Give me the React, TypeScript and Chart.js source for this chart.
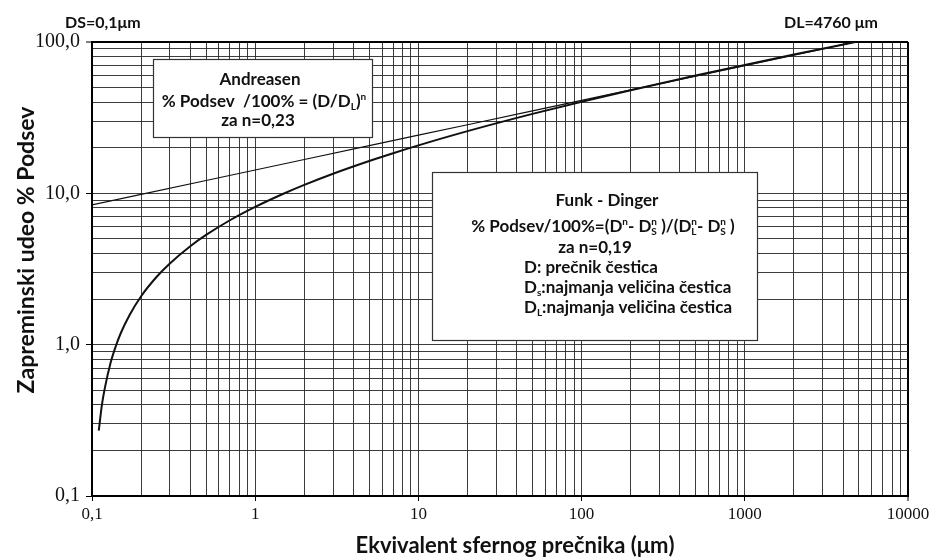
import { useEffect, useRef } from 'react';
import { Chart, registerables } from 'chart.js';

Chart.register(...registerables);

// Equivalent spherical diameter (μm) and cumulative passing (%)
const andreasenDiameters = [0.1, 0.2, 0.5, 1, 2, 5, 10, 20, 50, 100, 200, 500, 1000, 2000, 4760];
const andreasenPercent = [8.4, 9.85, 12.16, 14.26, 16.73, 20.65, 24.22, 28.4, 35.07, 41.13, 48.24, 59.56, 69.85, 81.92, 100];

const funkDingerDiameters = [0.11, 0.115, 0.12, 0.13, 0.14, 0.15, 0.17, 0.2, 0.25, 0.3, 0.4, 0.5, 0.7, 1, 1.5, 2, 3, 5, 7, 10, 20, 50, 100, 200, 500, 1000, 2000, 4760];
const funkDingerPercent = [0.27, 0.4, 0.52, 0.76, 0.98, 1.19, 1.57, 2.09, 2.82, 3.44, 4.47, 5.31, 6.64, 8.14, 9.98, 11.38, 13.48, 16.36, 18.42, 20.75, 25.76, 33.49, 40.29, 48.05, 60.0, 70.54, 82.56, 100];

const xMajorTicks = [0.1, 1, 10, 100, 1000, 10000];
const xTickLabels = ['0,1', '1', '10', '100', '1000', '10000'];
const yMajorTicks = [0.1, 1, 10, 100];
const yTickLabels = ['0,1', '1,0', '10,0', '100,0'];

const SANS = 'Lato, "Open Sans", sans-serif';
const SERIF = '"Liberation Serif", "DejaVu Serif", serif';

type Seg = { t: string; sub?: string; sup?: string };

const isMajor = (v: number) => Math.abs(Math.log10(v) - Math.round(Math.log10(v))) < 1e-9;

function logTicks(min: number, max: number) {
  const out: { value: number }[] = [];
  for (let e = Math.round(Math.log10(min)); e <= Math.round(Math.log10(max)); e++) {
    for (let m = 1; m <= 9; m++) {
      const v = parseFloat((m * Math.pow(10, e)).toPrecision(6));
      if (v >= min - 1e-12 && v <= max + 1e-9) out.push({ value: v });
    }
  }
  return out;
}

function labelFor(v: number, majors: number[], labels: string[]) {
  const i = majors.findIndex((m) => Math.abs(m - v) / m < 1e-6);
  return i >= 0 ? labels[i] : '';
}

function segWidth(ctx: CanvasRenderingContext2D, s: Seg, size: number) {
  ctx.font = `bold ${size}px ${SANS}`;
  const w = ctx.measureText(s.t).width;
  ctx.font = `bold ${Math.round(size * 0.6)}px ${SANS}`;
  const a = s.sub ? ctx.measureText(s.sub).width : 0;
  const b = s.sup ? ctx.measureText(s.sup).width : 0;
  return w + Math.max(a, b);
}

function drawRich(ctx: CanvasRenderingContext2D, segs: Seg[], x: number, y: number, size: number, align: 'left' | 'center') {
  const total = segs.reduce((acc, s) => acc + segWidth(ctx, s, size), 0);
  let cx = align === 'center' ? x - total / 2 : x;
  ctx.textAlign = 'left';
  ctx.textBaseline = 'alphabetic';
  ctx.fillStyle = '#111';
  for (const s of segs) {
    ctx.font = `bold ${size}px ${SANS}`;
    ctx.fillText(s.t, cx, y);
    cx += ctx.measureText(s.t).width;
    ctx.font = `bold ${Math.round(size * 0.6)}px ${SANS}`;
    let extra = 0;
    if (s.sup) {
      ctx.fillText(s.sup, cx, y - size * 0.42);
      extra = Math.max(extra, ctx.measureText(s.sup).width);
    }
    if (s.sub) {
      ctx.fillText(s.sub, cx, y + size * 0.2);
      extra = Math.max(extra, ctx.measureText(s.sub).width);
    }
    cx += extra;
  }
}

const andreasenLines: Seg[][] = [
  [{ t: 'Andreasen' }],
  [{ t: '% Podsev  /100% = (D/D', sub: 'L' }, { t: ')', sup: 'n' }],
  [{ t: 'za n=0,23' }],
];

const funkHeader: Seg[][] = [
  [{ t: 'Funk - Dinger' }],
  [
    { t: '% Podsev/100%=(D', sup: 'n' },
    { t: '- D', sup: 'n', sub: 'S' },
    { t: ' )/(D', sup: 'n', sub: 'L' },
    { t: '- D', sup: 'n', sub: 'S' },
    { t: ' )' },
  ],
];
const funkExponent: Seg[] = [{ t: 'za n=0,19' }];
const funkLegend: Seg[][] = [
  [{ t: 'D: prečnik čestica' }],
  [{ t: 'D', sub: 's' }, { t: ':najmanja veličina čestica' }],
  [{ t: 'D', sub: 'L' }, { t: ':najmanja veličina čestica' }],
];

const decorations = {
  id: 'decorations',
  beforeDraw(chart: Chart) {
    const ctx = chart.ctx;
    ctx.save();
    ctx.fillStyle = '#fff';
    ctx.fillRect(0, 0, chart.width, chart.height);
    ctx.restore();
  },
  afterDraw(chart: Chart) {
    const ctx = chart.ctx;
    ctx.save();

    // boxes
    ctx.fillStyle = '#fff';
    ctx.strokeStyle = '#333';
    ctx.lineWidth = 1.2;
    ctx.fillRect(153, 59, 219, 78);
    ctx.strokeRect(153.5, 59.5, 219, 78);
    ctx.fillRect(432, 172, 325, 168);
    ctx.strokeRect(432.5, 172.5, 325, 168);

    drawRich(ctx, andreasenLines[0], 260, 85, 17, 'center');
    drawRich(ctx, andreasenLines[1], 264, 107, 17, 'center');
    drawRich(ctx, andreasenLines[2], 258, 126, 17, 'center');

    drawRich(ctx, funkHeader[0], 607, 206, 17, 'center');
    drawRich(ctx, funkHeader[1], 603, 232, 17, 'center');
    drawRich(ctx, funkExponent, 595, 253, 17, 'center');
    drawRich(ctx, funkLegend[0], 524, 273, 17, 'left');
    drawRich(ctx, funkLegend[1], 524, 293, 17, 'left');
    drawRich(ctx, funkLegend[2], 524, 313, 17, 'left');

    // limits of the distribution
    drawRich(ctx, [{ t: 'DS=0,1μm' }], 65, 28, 16, 'left');
    drawRich(ctx, [{ t: 'DL=4760 μm' }], 784, 28, 16, 'left');

    // axis titles
    drawRich(ctx, [{ t: 'Ekvivalent sfernog prečnika (μm)' }], 515, 553, 22, 'center');
    ctx.save();
    ctx.translate(34, 250);
    ctx.rotate(-Math.PI / 2);
    drawRich(ctx, [{ t: 'Zapreminski udeo % Podsev' }], 0, 0, 23, 'center');
    ctx.restore();

    ctx.restore();
  },
};

export default function App() {
  const ref = useRef<HTMLCanvasElement>(null);

  useEffect(() => {
    if (!ref.current) return;
    const gridColor = (c: any) => {
      const v = c.tick ? c.tick.value : 0;
      if (v >= c.scale.max * 0.999) return '#000';
      return 'rgba(40,40,40,0.9)';
    };
    const gridWidth = (c: any) => {
      const v = c.tick ? c.tick.value : 0;
      return v >= c.scale.max * 0.999 ? 2 : 1;
    };
    const tickColor = (c: any) => (c.tick && isMajor(c.tick.value) ? '#000' : 'rgba(0,0,0,0)');

    const chart = new Chart(ref.current, {
      type: 'line',
      data: {
        datasets: [
          {
            label: 'Andreasen',
            data: andreasenDiameters.map((d, i) => ({ x: d, y: andreasenPercent[i] })),
            borderColor: '#111',
            borderWidth: 1.2,
            pointRadius: 0,
            fill: false,
          },
          {
            label: 'Funk - Dinger',
            data: funkDingerDiameters.map((d, i) => ({ x: d, y: funkDingerPercent[i] })),
            borderColor: '#111',
            borderWidth: 2,
            pointRadius: 0,
            fill: false,
            cubicInterpolationMode: 'monotone',
          },
        ],
      },
      options: {
        responsive: false,
        animation: false,
        layout: { padding: { top: 42, right: 26, left: 0, bottom: 0 } },
        plugins: { legend: { display: false }, tooltip: { enabled: false } },
        scales: {
          x: {
            type: 'logarithmic',
            min: 0.1,
            max: 10000,
            afterBuildTicks: (s: any) => {
              s.ticks = logTicks(0.1, 10000);
            },
            afterFit: (s: any) => {
              s.height = 61;
            },
            grid: { color: gridColor, lineWidth: gridWidth, tickLength: 5, tickColor, tickWidth: 1 },
            border: { color: '#000', width: 2 },
            ticks: {
              autoSkip: false,
              maxRotation: 0,
              padding: 3,
              color: '#111',
              font: { family: SERIF, size: 17 },
              callback: (v: any) => labelFor(Number(v), xMajorTicks, xTickLabels),
            },
          },
          y: {
            type: 'logarithmic',
            min: 0.1,
            max: 100,
            afterBuildTicks: (s: any) => {
              s.ticks = logTicks(0.1, 100);
            },
            afterFit: (s: any) => {
              s.width = 92;
            },
            grid: { color: gridColor, lineWidth: gridWidth, tickLength: 6, tickColor, tickWidth: 1 },
            border: { color: '#000', width: 2 },
            ticks: {
              autoSkip: false,
              padding: 6,
              color: '#111',
              font: { family: SERIF, size: 20 },
              callback: (v: any) => labelFor(Number(v), yMajorTicks, yTickLabels),
            },
          },
        },
      },
      plugins: [decorations],
    });
    return () => chart.destroy();
  }, []);

  return (
    <div style={{ position: 'fixed', left: 0, top: 0, width: 934, height: 557, background: '#fff' }}>
      <canvas ref={ref} width={934} height={557} style={{ width: 934, height: 557, display: 'block' }} />
    </div>
  );
}
